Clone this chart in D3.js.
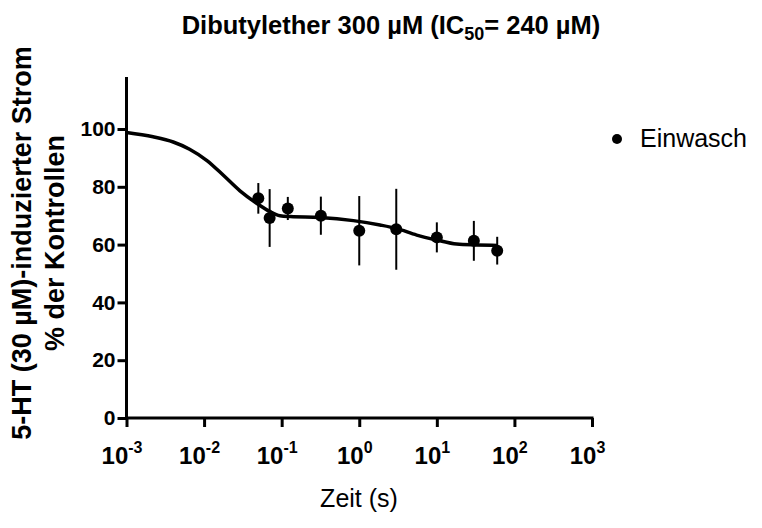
<!DOCTYPE html>
<html>
<head>
<meta charset="utf-8">
<script src="https://cdn.jsdelivr.net/npm/d3@7"></script>
<style>
  body { margin: 0; background: #fff; }
  text { font-family: Arial, "Liberation Sans", sans-serif; fill: #000; }
</style>
</head>
<body>
<div id="chart"></div>
<script>
// measured points (time in s, % of control, SEM)
var timeS = [0.05, 0.07, 0.12, 0.32, 1, 3, 10, 30, 60];
var current = [76, 69.2, 72.5, 70, 64.8, 65.3, 62.5, 61.3, 57.9];
var sem = [5.3, 10, 4, 6.6, 12, 14, 5.2, 6.9, 4.8];

// fitted curve
var curveX = [0.001, 0.0022, 0.004, 0.0065, 0.011, 0.018, 0.029, 0.047, 0.07, 0.095, 0.13, 0.31, 0.84, 1.85, 3, 5.5, 10, 18, 33, 60];
var curveY = [98.8, 97.3, 95.5, 93, 89, 83.8, 78.6, 74.4, 71.5, 70, 69.7, 69.4, 68.3, 66.8, 65.6, 63.3, 61.6, 60.2, 59.9, 59.7];

var xTicks = [-3, -2, -1, 0, 1, 2, 3];
var yTicks = [0, 20, 40, 60, 80, 100];
var yMax = 118;

var width = 762, height = 528;

var svg = d3.select("#chart").append("svg")
    .attr("width", width)
    .attr("height", height);

var x = d3.scaleLog()
    .domain([1e-3, 1e3])
    .range([126.5, 592]);

var y = d3.scaleLinear()
    .domain([0, 100])
    .range([418, 129]);

// title
var title = svg.append("text")
    .attr("x", 391)
    .attr("y", 34)
    .attr("text-anchor", "middle")
    .attr("font-size", "25.5px")
    .attr("font-weight", "bold");
title.append("tspan").text("Dibutylether 300 µM (IC");
title.append("tspan").attr("font-size", "18px").attr("dy", 6).text("50");
title.append("tspan").attr("dy", -6).text("= 240 µM)");

// y axis
var yAxis = svg.append("g")
    .attr("transform", "translate(" + x(1e-3) + ",0)")
    .call(d3.axisLeft(y).tickValues(yTicks).tickSize(9).tickPadding(2));
yAxis.select(".domain").remove();
yAxis.append("line")
    .attr("y1", y(0) + 1.5)
    .attr("y2", y(yMax))
    .attr("stroke", "#000")
    .attr("stroke-width", 3);
yAxis.selectAll(".tick line").attr("stroke-width", 3);
yAxis.selectAll(".tick text")
    .attr("font-size", "21px")
    .attr("font-weight", "bold")
    .attr("font-family", "Arial, 'Liberation Sans', sans-serif");

// x axis
var xAxis = svg.append("g")
    .attr("transform", "translate(0," + y(0) + ")")
    .call(d3.axisBottom(x).tickValues(xTicks.map(function(d) { return Math.pow(10, d); })).tickSize(9).tickFormat(""));
xAxis.select(".domain").remove();
xAxis.append("line")
    .attr("x1", x(1e-3) - 1.5)
    .attr("x2", x(1e3) + 1.5)
    .attr("stroke", "#000")
    .attr("stroke-width", 3);
xAxis.selectAll(".tick line").attr("stroke-width", 3);
var xl = xAxis.selectAll(".tick").append("text")
    .attr("y", 46)
    .attr("text-anchor", "middle")
    .attr("font-size", "24px")
    .attr("font-weight", "bold")
    .attr("fill", "#000");
xl.append("tspan").attr("dx", -5).text("10");
xl.append("tspan")
    .attr("font-size", "16px")
    .attr("dy", -11)
    .text(function(d) { return Math.round(Math.log10(d)); });

// axis labels
var ylab = svg.append("text")
    .attr("transform", "translate(0,243) rotate(-90)")
    .attr("text-anchor", "middle")
    .attr("font-size", "27px")
    .attr("font-weight", "bold");
ylab.append("tspan").attr("x", 0).attr("y", 31).text("5-HT (30 µM)-induzierter Strom");
ylab.append("tspan").attr("x", 0).attr("y", 64).text("% der Kontrollen");

svg.append("text")
    .attr("x", 359)
    .attr("y", 507)
    .attr("text-anchor", "middle")
    .attr("font-size", "25px")
    .text("Zeit (s)");

// fitted curve
var line = d3.line()
    .x(function(d, i) { return x(curveX[i]); })
    .y(function(d) { return y(d); })
    .curve(d3.curveMonotoneX);

svg.append("path")
    .datum(curveY)
    .attr("d", line)
    .attr("fill", "none")
    .attr("stroke", "#000")
    .attr("stroke-width", 3.5);

// error bars
svg.selectAll(".err")
    .data(timeS)
    .enter()
    .append("line")
    .attr("class", "err")
    .attr("x1", function(d) { return x(d); })
    .attr("x2", function(d) { return x(d); })
    .attr("y1", function(d, i) { return y(current[i] + sem[i]); })
    .attr("y2", function(d, i) { return y(current[i] - sem[i]); })
    .attr("stroke", "#000")
    .attr("stroke-width", 2);

// points
svg.selectAll(".pt")
    .data(timeS)
    .enter()
    .append("circle")
    .attr("class", "pt")
    .attr("cx", function(d) { return x(d); })
    .attr("cy", function(d, i) { return y(current[i]); })
    .attr("r", 6)
    .attr("fill", "#000");

// legend
svg.append("circle")
    .attr("cx", 617)
    .attr("cy", 139)
    .attr("r", 5)
    .attr("fill", "#000");
svg.append("text")
    .attr("x", 640)
    .attr("y", 147)
    .attr("font-size", "25px")
    .text("Einwasch");
</script>
</body>
</html>
